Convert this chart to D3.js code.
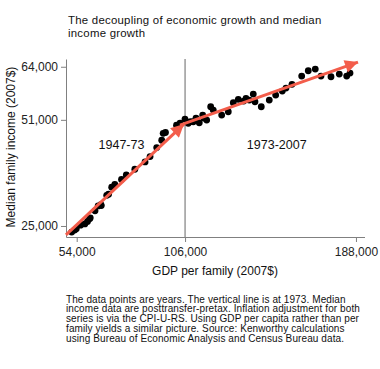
<!DOCTYPE html>
<html>
<head>
<meta charset="utf-8">
<script src="https://cdn.jsdelivr.net/npm/d3@7"></script>
<style>
  body { margin: 0; background: #fff; }
  svg { font-family: "Liberation Sans", Arial, sans-serif; }
  .axis path, .axis line { stroke: #808080; }
  .axis text { fill: #222; font-size: 12px; }
</style>
</head>
<body>
<svg width="380" height="369"></svg>
<script>
// GDP per family vs median family income, 2007 dollars
const years = d3.range(1947, 2008);

const gdpPerFamily = [
    51600, 53000, 53800, 55800, 57900, 59200, 60500, 60200, 62800, 64300,
    65800, 65600, 68400, 69300, 70800, 72300, 75500, 77800, 81900, 86800,
    89200, 92400, 94800, 95500, 96600, 101900, 103600,
    105960, 107550, 108600, 109950, 111240, 112820, 114460, 116370, 115080, 118290,
    119540, 123570, 126740, 129140, 131540, 134120, 135230, 136810, 138730, 139550,
    142570, 146410, 149480, 152650, 154420, 157300, 161960, 165120, 168480, 171220,
    176020, 180000, 183550, 185150, 187870
];
const medianIncome = [
    23500, 24000, 24300, 25200, 25500, 26100, 27000, 26800, 28700, 29900,
    30000, 30200, 32500, 32800, 34500, 35200, 36400, 37500, 38900, 40700,
    42000, 44200, 46000, 47700, 47900, 49700, 50200,
    51190, 50140, 50580, 50530, 51440, 50290, 52170, 50930, 51440, 54200,
    53380, 52170, 52980, 55180, 56020, 55600, 56260, 55840, 57310, 55430,
    54200, 55840, 57070, 58050, 58780, 59690, 61720, 63020, 63430, 61720,
    61550, 62210, 61720, 62450, 63750
];

const xTicks = [54000, 106000, 188000];
const yTicks = [25000, 51000, 64000];

// trend arrows: [x0, y0, x1, y1]
const arrows = [
    [48870, 22800, 105480, 49970],
    [103560, 49720, 188970, 65150]
];
const periods = [
    {label: "1947-73", x: 75500, y: 43800},
    {label: "1973-2007", x: 150000, y: 43800}
];
const breakYear = 106000;

const titleLines = ["The decoupling of economic growth and median", "income growth"];
const noteLines = [
    "The data points are years. The vertical line is at 1973. Median",
    "income data are posttransfer-pretax. Inflation adjustment for both",
    "series is via the CPI-U-RS. Using GDP per capita rather than per",
    "family yields a similar picture. Source: Kenworthy calculations",
    "using Bureau of Economic Analysis and Census Bureau data."
];

const svg = d3.select("svg");
const red = "#f35d4b";

const x = d3.scaleLinear().domain([48870, 192100]).range([66, 364.5]);
const y = d3.scaleLinear().domain([22300, 65900]).range([237, 59]);

svg.append("text")
    .attr("font-size", 11.4).attr("letter-spacing", 0.25).attr("fill", "#111")
    .selectAll("tspan")
    .data(titleLines)
    .join("tspan")
    .attr("x", 68)
    .attr("y", (_d, i) => 24 + i * 13.2)
    .text(d => d);

svg.append("g")
    .attr("class", "axis")
    .attr("transform", "translate(66,0)")
    .call(d3.axisLeft(y).tickValues(yTicks).tickFormat(d3.format(",")).tickSize(5).tickSizeOuter(0).tickPadding(3));

svg.append("g")
    .attr("class", "axis")
    .attr("transform", "translate(0,237)")
    .call(d3.axisBottom(x).tickValues(xTicks).tickFormat(d3.format(",")).tickSize(5).tickSizeOuter(0).tickPadding(5));

svg.append("line")
    .attr("x1", x(breakYear)).attr("x2", x(breakYear))
    .attr("y1", y.range()[1]).attr("y2", y.range()[0])
    .attr("stroke", "#666").attr("stroke-width", 1);

svg.append("g")
    .selectAll("circle")
    .data(years.map((yr, i) => ({yr, gdp: gdpPerFamily[i], inc: medianIncome[i]})))
    .join("circle")
    .attr("cx", d => x(d.gdp))
    .attr("cy", d => y(d.inc))
    .attr("r", 3.4)
    .attr("fill", "#000");

svg.append("defs").append("marker")
    .attr("id", "head")
    .attr("viewBox", "0 0 10 10")
    .attr("refX", 10).attr("refY", 5)
    .attr("markerUnits", "userSpaceOnUse")
    .attr("markerWidth", 14).attr("markerHeight", 13)
    .attr("orient", "auto")
    .append("path")
    .attr("d", "M0,0 L10,5 L0,10 Z")
    .attr("fill", red);

svg.append("g")
    .selectAll("line")
    .data(arrows)
    .join("line")
    .attr("x1", d => x(d[0])).attr("y1", d => y(d[1]))
    .attr("x2", d => x(d[2])).attr("y2", d => y(d[3]))
    .attr("stroke", red).attr("stroke-width", 3)
    .attr("marker-end", "url(#head)");

svg.append("g")
    .selectAll("text")
    .data(periods)
    .join("text")
    .attr("x", d => x(d.x)).attr("y", d => y(d.y))
    .attr("text-anchor", "middle")
    .attr("font-size", 12.5).attr("fill", "#111")
    .text(d => d.label);

svg.append("text")
    .attr("transform", "translate(15,147) rotate(-90)")
    .attr("text-anchor", "middle")
    .attr("font-size", 12).attr("fill", "#111")
    .text("Median family income (2007$)");

svg.append("text")
    .attr("x", 215).attr("y", 275)
    .attr("text-anchor", "middle")
    .attr("font-size", 12).attr("fill", "#111")
    .text("GDP per family (2007$)");

svg.append("text")
    .attr("font-size", 10).attr("letter-spacing", 0.1).attr("fill", "#111")
    .selectAll("tspan")
    .data(noteLines)
    .join("tspan")
    .attr("x", 66)
    .attr("y", (_d, i) => 302.5 + i * 9.8)
    .text(d => d);
</script>
</body>
</html>
